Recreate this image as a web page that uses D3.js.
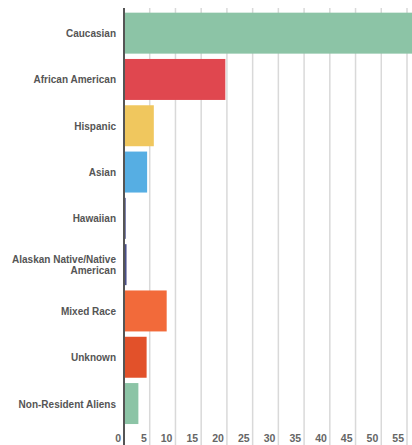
<!DOCTYPE html>
<html><head><meta charset="utf-8">
<script src="https://cdn.jsdelivr.net/npm/d3@7"></script>
<style>body{margin:0;background:#fff}svg{display:block}</style>
</head><body>
<script>
const categories = ["Caucasian","African American","Hispanic","Asian","Hawaiian","Alaskan Native/Native American","Mixed Race","Unknown","Non-Resident Aliens"];
const values = [58, 19.5, 5.6, 4.3, 0.15, 0.3, 8.1, 4.2, 2.6];
const colors = ["#8cc4a6","#e0474f","#f0c75e","#56aee3","#5b5f97","#4b4f8a","#f26a3a","#e2512a","#8cc4a6"];
const tickValues = [0,5,10,15,20,25,30,35,40,45,50,55];

const W = 412, H = 445;
const svg = d3.select("body").append("svg").attr("width", W).attr("height", H);
const x = d3.scaleLinear().domain([0,55]).range([124,407]);
const y = d3.scaleBand().domain(categories).range([10,426.7]).paddingInner(0.115).paddingOuter(0.0575);

// grid
svg.append("g").selectAll("line").data(tickValues.slice(1)).join("line")
  .attr("x1", d=>x(d)).attr("x2", d=>x(d)).attr("y1", 8).attr("y2", H)
  .attr("stroke", "#d9d9d9").attr("stroke-width", 1.5);

// bars
svg.append("g").selectAll("rect").data(categories).join("rect")
  .attr("x", x(0)+1).attr("y", d=>y(d))
  .attr("width", (d,i)=>Math.max(0, x(values[i]) - x(0)))
  .attr("height", y.bandwidth())
  .attr("fill", (d,i)=>colors[i]);

// axis line
svg.append("line").attr("x1", x(0)).attr("x2", x(0)).attr("y1", 8).attr("y2", H)
  .attr("stroke", "#555").attr("stroke-width", 2);

// tick labels
svg.append("g").selectAll("text").data(tickValues).join("text")
  .attr("x", d=>x(d)-3).attr("y", 442)
  .attr("text-anchor","end")
  .attr("font-family","'Liberation Sans', Arial, sans-serif")
  .attr("font-size", 10.5).attr("font-weight", 700)
  .attr("fill","#666").text(d=>d);

// category labels
const lines = {"Alaskan Native/Native American": ["Alaskan Native/Native","American"]};
const lab = svg.append("g").selectAll("text").data(categories).join("text")
  .attr("x", 116)
  .attr("y", d=>y(d)+y.bandwidth()/2)
  .attr("text-anchor","end")
  .attr("dominant-baseline","central")
  .attr("font-family","'Liberation Sans', Arial, sans-serif")
  .attr("font-size", 10).attr("font-weight", 700)
  .attr("fill","#555");
lab.each(function(d){
  const parts = lines[d] || [d];
  const t = d3.select(this);
  parts.forEach((p,i)=>{
    t.append("tspan").attr("x",116)
     .attr("dy", i===0 ? (-(parts.length-1)*5.5)+"px" : "11px")
     .text(p);
  });
});
</script>
</body></html>
